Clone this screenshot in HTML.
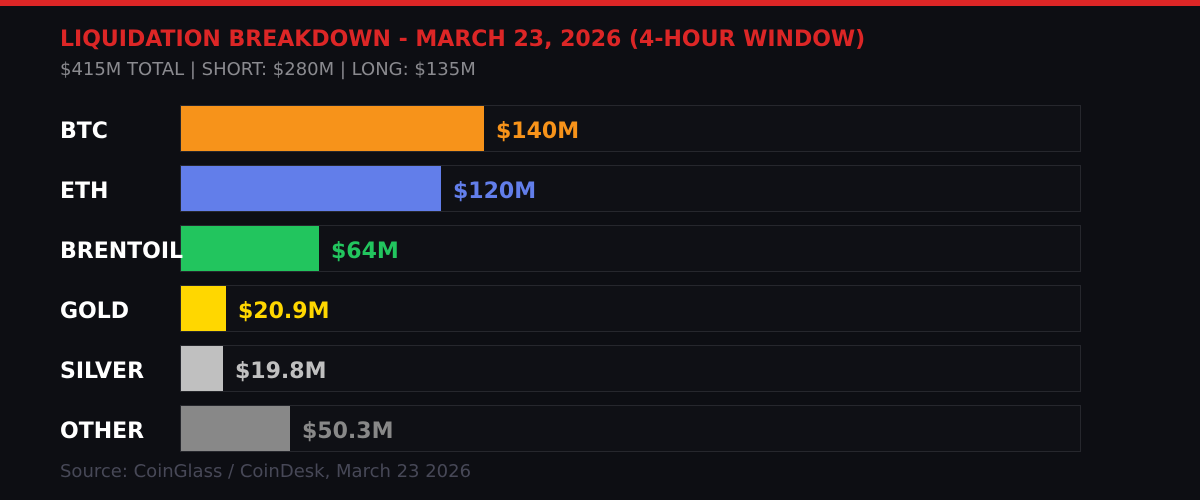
<!DOCTYPE html>
<html>
<head>
<meta charset="utf-8">
<style>
html,body{margin:0;padding:0;background:#0d0e13;}
svg{display:block;}
text{font-family:"DejaVu Sans","Liberation Sans",sans-serif;}
</style>
</head>
<body>
<svg width="1200" height="500" viewBox="0 0 1200 500" xmlns="http://www.w3.org/2000/svg">
<rect x="0" y="0" width="1200" height="500" fill="#0d0e13"/>
<rect x="0" y="0" width="1200" height="6" fill="#dc2626"/>
<text x="60" y="46" font-size="22" font-weight="bold" fill="#dc2626">LIQUIDATION BREAKDOWN - MARCH 23, 2026 (4-HOUR WINDOW)</text>
<text x="60" y="75" font-size="18" fill="#8a8a8f">$415M TOTAL | SHORT: $280M | LONG: $135M</text>

<g stroke="#26272d" stroke-width="1" fill="#0f1015">
<rect x="180.5" y="105.5" width="900" height="46"/>
<rect x="180.5" y="165.5" width="900" height="46"/>
<rect x="180.5" y="225.5" width="900" height="46"/>
<rect x="180.5" y="285.5" width="900" height="46"/>
<rect x="180.5" y="345.5" width="900" height="46"/>
<rect x="180.5" y="405.5" width="900" height="46"/>
</g>

<rect x="181" y="106" width="303" height="45" fill="#f7931a"/>
<rect x="181" y="166" width="260" height="45" fill="#627eea"/>
<rect x="181" y="226" width="138" height="45" fill="#22c55e"/>
<rect x="181" y="286" width="45" height="45" fill="#ffd700"/>
<rect x="181" y="346" width="42" height="45" fill="#c0c0c0"/>
<rect x="181" y="406" width="109" height="45" fill="#888888"/>

<g font-size="22" font-weight="bold" fill="#ffffff">
<text x="60" y="138">BTC</text>
<text x="60" y="198">ETH</text>
<text x="60" y="258">BRENTOIL</text>
<text x="60" y="318">GOLD</text>
<text x="60" y="378">SILVER</text>
<text x="60" y="438">OTHER</text>
</g>

<g font-size="22" font-weight="bold">
<text x="496" y="138" fill="#f7931a">$140M</text>
<text x="453" y="198" fill="#627eea">$120M</text>
<text x="331" y="258" fill="#22c55e">$64M</text>
<text x="238" y="318" fill="#ffd700">$20.9M</text>
<text x="235" y="378" fill="#c0c0c0">$19.8M</text>
<text x="302" y="438" fill="#888888">$50.3M</text>
</g>

<text x="60" y="477" font-size="18" fill="#474857">Source: CoinGlass / CoinDesk, March 23 2026</text>
</svg>
</body>
</html>
